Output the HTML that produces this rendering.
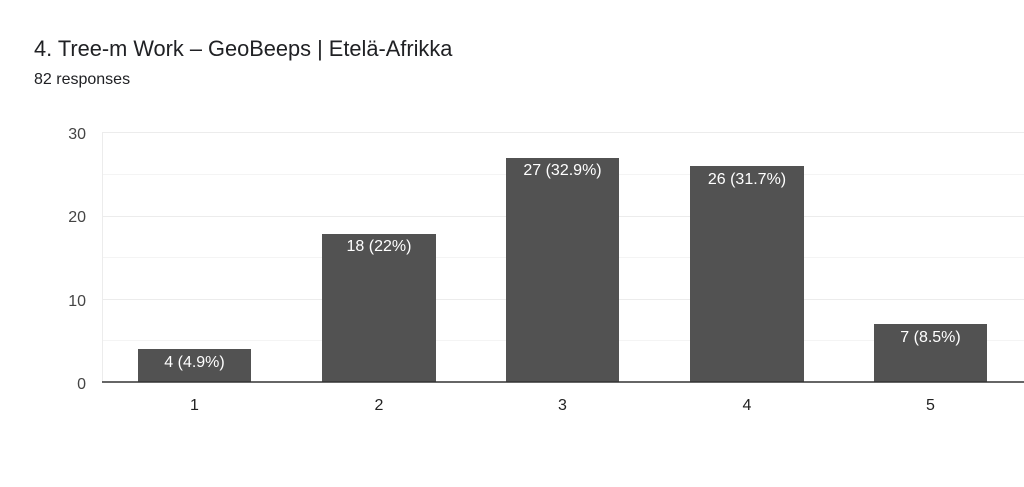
<!DOCTYPE html>
<html><head><style>
html,body{margin:0;padding:0;background:#fff;width:1024px;height:487px;overflow:hidden}
svg{display:block;font-family:"Liberation Sans",Arial,sans-serif}
</style></head><body>
<svg width="1024" height="487" viewBox="0 0 1024 487">
<text x="34" y="56" font-size="21.8" fill="#202124">4. Tree-m Work – GeoBeeps | Etelä-Afrikka</text>
<text x="34" y="84" font-size="16" fill="#202124">82 responses</text>
<g stroke="#ececec" stroke-width="1">
<line x1="102" y1="132.5" x2="1024" y2="132.5"/>
<line x1="102" y1="174.5" x2="1024" y2="174.5" stroke="#f4f4f4"/>
<line x1="102" y1="216.5" x2="1024" y2="216.5"/>
<line x1="102" y1="257.5" x2="1024" y2="257.5" stroke="#f4f4f4"/>
<line x1="102" y1="299.5" x2="1024" y2="299.5"/>
<line x1="102" y1="340.5" x2="1024" y2="340.5" stroke="#f4f4f4"/>
<line x1="102.5" y1="132" x2="102.5" y2="382"/>
</g>
<g font-size="16" fill="#444" text-anchor="end">
<text x="86" y="139">30</text><text x="86" y="222">20</text><text x="86" y="306">10</text><text x="86" y="389">0</text>
</g>
<g fill="#525252">
<rect x="138" y="349" width="113" height="33"/>
<rect x="322" y="234" width="114" height="148"/>
<rect x="506" y="158" width="113" height="224"/>
<rect x="690" y="166" width="114" height="216"/>
<rect x="874" y="324" width="113" height="58"/>
</g>
<line x1="102" y1="382" x2="1024" y2="382" stroke="#333" stroke-width="1.5"/>
<g font-size="16" fill="#fff" text-anchor="middle">
<text x="194.5" y="367">4 (4.9%)</text>
<text x="379" y="251">18 (22%)</text>
<text x="562.5" y="175">27 (32.9%)</text>
<text x="747" y="184">26 (31.7%)</text>
<text x="930.5" y="342">7 (8.5%)</text>
</g>
<g font-size="16" fill="#222" text-anchor="middle">
<text x="194.5" y="410">1</text><text x="379" y="410">2</text><text x="562.5" y="410">3</text><text x="747" y="410">4</text><text x="930.5" y="410">5</text>
</g>
</svg>
</body></html>
